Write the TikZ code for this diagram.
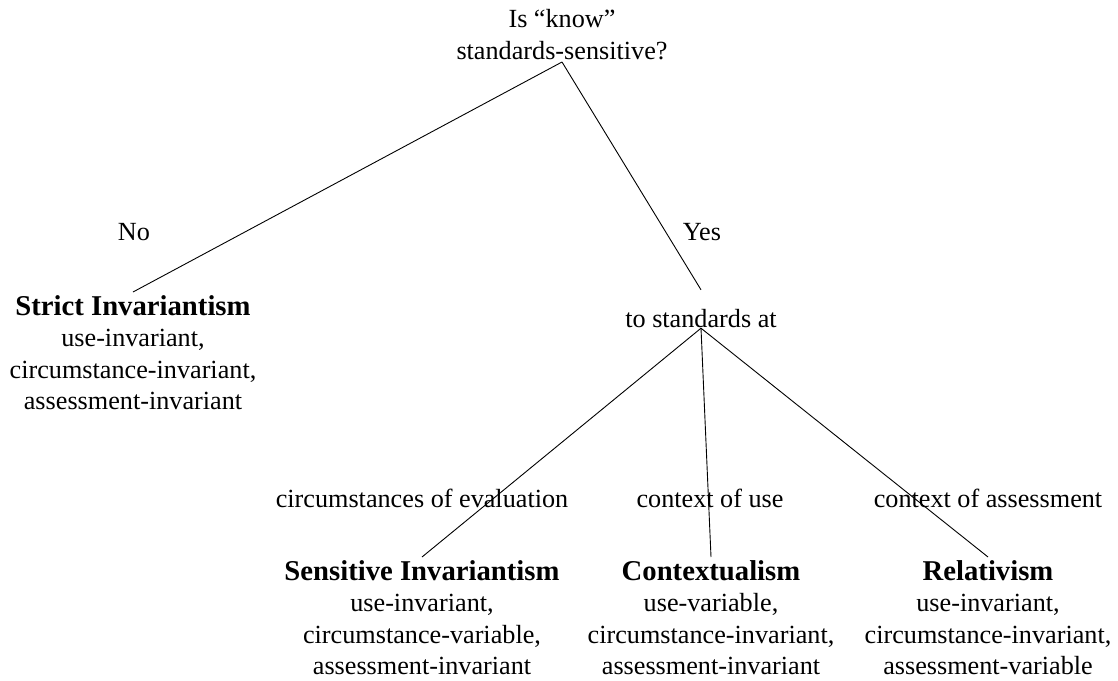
\documentclass[tikz,border=0pt]{standalone}
\usepackage{fontspec}
\setmainfont{Liberation Serif}
\newcommand\ttl[1]{{\fontsize{28.7}{31.5}\selectfont\bfseries #1}}
\tikzset{
  txt/.style={font=\fontsize{26.2}{31.5}\selectfont, inner sep=0pt},
  leaf/.style={txt, align=center, anchor=north, inner sep=3pt},
  lbl/.style={txt, anchor=base},
  branch/.style={line width=0.9pt, black},
}
\begin{document}
\begin{tikzpicture}[x=1pt,y=-1pt]
\useasboundingbox (0,0) rectangle (1118,680);
\node[txt, align=center, anchor=south, inner sep=2pt] (root) at (562,62) {Is “know”\\standards-sensitive?};
\node[leaf] (strict) at (133,292) {\ttl{Strict Invariantism}\\use-invariant,\\circumstance-invariant,\\assessment-invariant};
\node[txt, anchor=base, text height=37pt, text depth=1pt] (mid) at (701,327) {to standards at};
\node[lbl] (no) at (134,240) {No};
\node[lbl] (yes) at (702,240) {Yes};
\node[lbl] (lcirc) at (422,507) {circumstances of evaluation};
\node[lbl] (luse) at (710,507) {context of use};
\node[lbl] (lass) at (988,507) {context of assessment};
\node[leaf] (sens) at (422,557) {\ttl{Sensitive Invariantism}\\use-invariant,\\circumstance-variable,\\assessment-invariant};
\node[leaf] (ctx) at (711,557) {\ttl{Contextualism}\\use-variable,\\circumstance-invariant,\\assessment-invariant};
\node[leaf] (rel) at (988,557) {\ttl{Relativism}\\use-invariant,\\circumstance-invariant,\\assessment-variable};
\draw[branch] (root.south) -- (strict.north);
\draw[branch] (root.south) -- (mid.north);
\draw[branch] (mid.south) -- (sens.north);
\draw[branch] (mid.south) -- (ctx.north);
\draw[branch] (mid.south) -- (rel.north);
\end{tikzpicture}
\end{document}
